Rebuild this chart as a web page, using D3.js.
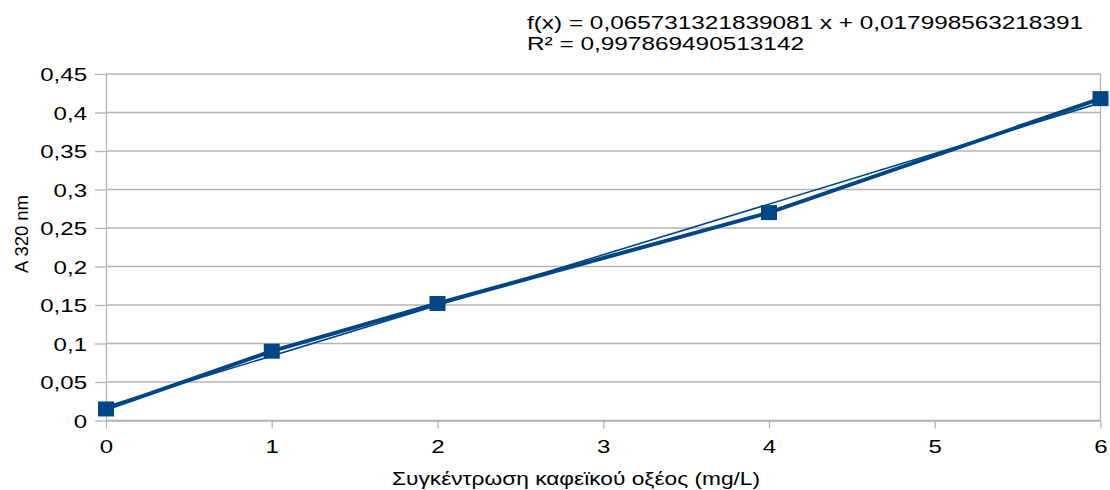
<!DOCTYPE html>
<html>
<head>
<meta charset="utf-8">
<script src="https://cdn.jsdelivr.net/npm/d3@7"></script>
<style>
  body { margin: 0; background: #fff; }
  text { font-family: "Liberation Sans", Arial, sans-serif; fill: #000; }
</style>
</head>
<body>
<svg id="chart" width="1110" height="490"></svg>
<script>
const concentration = [0, 1, 2, 4, 6];
const absorbance = [0.015, 0.09, 0.152, 0.27, 0.418];
const xTicks = [0, 1, 2, 3, 4, 5, 6];
const yTicks = [0, 0.05, 0.1, 0.15, 0.2, 0.25, 0.3, 0.35, 0.4, 0.45];
const equationText = "f(x) = 0,065731321839081 x + 0,017998563218391";
const r2Text = "R² = 0,997869490513142";
const xTitle = "Συγκέντρωση καφεϊκού οξέος (mg/L)";
const yTitle = "A 320 nm";

const svg = d3.select("#chart");
const width = 1110, height = 490;
const margin = { top: 74, right: 9.5, bottom: 69.5, left: 106 };
const blue = "#004586";
const grid = "#b3b3b3";
const sx = 1.3; // text in the picture is stretched sideways
const fontSize = 18.5;

svg.append("rect").attr("width", width).attr("height", height).attr("fill", "#fff");

const x = d3.scaleLinear().domain([0, 6]).range([margin.left, width - margin.right]);
const y = d3.scaleLinear().domain([0, 0.45]).range([height - margin.bottom, margin.top]);
const fmt = d => String(d).replace(".", ",");

// horizontal gridlines
svg.append("g")
  .selectAll("line")
  .data(yTicks)
  .join("line")
  .attr("x1", x(0)).attr("x2", x(6))
  .attr("y1", d => y(d)).attr("y2", d => y(d))
  .attr("stroke", grid).attr("stroke-width", 1.3);

// right border of the plot
svg.append("line")
  .attr("x1", x(6)).attr("x2", x(6))
  .attr("y1", y(0)).attr("y2", y(0.45))
  .attr("stroke", grid).attr("stroke-width", 1.3);

// y axis
const yAxis = svg.append("g")
  .attr("transform", `translate(${margin.left},0)`)
  .call(d3.axisLeft(y).tickValues(yTicks).tickFormat(fmt).tickSize(11).tickSizeOuter(0));
yAxis.select(".domain").attr("stroke", grid).attr("stroke-width", 1.3);
yAxis.selectAll(".tick line").attr("stroke", grid).attr("stroke-width", 1.3);
yAxis.selectAll(".tick text")
  .attr("font-size", fontSize)
  .attr("fill", "#000")
  .attr("x", -19 / sx)
  .attr("dy", "0.36em")
  .attr("transform", `scale(${sx},1)`);

// x axis
const xAxis = svg.append("g")
  .attr("transform", `translate(0,${y(0)})`)
  .call(d3.axisBottom(x).tickValues(xTicks).tickFormat(fmt).tickSize(8).tickSizeOuter(0));
xAxis.select(".domain").attr("stroke", grid).attr("stroke-width", 1.3);
xAxis.selectAll(".tick line").attr("stroke", grid).attr("stroke-width", 1.3);
xAxis.selectAll(".tick text")
  .attr("font-size", fontSize)
  .attr("fill", "#000")
  .attr("y", 32.5)
  .attr("dy", null)
  .attr("transform", `scale(${sx},1)`);

// least squares trend line from the data
const mx = d3.mean(concentration), my = d3.mean(absorbance);
const sxy = d3.sum(concentration, (c, i) => (c - mx) * (absorbance[i] - my));
const sxx = d3.sum(concentration, c => (c - mx) * (c - mx));
const slope = sxy / sxx, intercept = my - slope * mx;
const trendX = d3.extent(concentration);

svg.append("line")
  .attr("x1", x(trendX[0])).attr("y1", y(intercept + slope * trendX[0]))
  .attr("x2", x(trendX[1])).attr("y2", y(intercept + slope * trendX[1]))
  .attr("stroke", blue).attr("stroke-width", 1.6);

// data line
const points = concentration.map((c, i) => [c, absorbance[i]]);
svg.append("path")
  .datum(points)
  .attr("fill", "none")
  .attr("stroke", blue)
  .attr("stroke-width", 4)
  .attr("stroke-linejoin", "round")
  .attr("d", d3.line().x(d => x(d[0])).y(d => y(d[1])));

// square markers
const mw = 16, mh = 15;
svg.append("g")
  .selectAll("rect")
  .data(points)
  .join("rect")
  .attr("x", d => x(d[0]) - mw / 2)
  .attr("y", d => y(d[1]) - mh / 2)
  .attr("width", mw).attr("height", mh)
  .attr("fill", blue);

// regression text
svg.append("text")
  .attr("x", 527).attr("y", 29)
  .attr("font-size", fontSize)
  .attr("textLength", 556).attr("lengthAdjust", "spacingAndGlyphs")
  .text(equationText);
svg.append("text")
  .attr("x", 527).attr("y", 50)
  .attr("font-size", fontSize)
  .attr("textLength", 277).attr("lengthAdjust", "spacingAndGlyphs")
  .text(r2Text);

// axis titles
svg.append("text")
  .attr("x", 392).attr("y", 485)
  .attr("font-size", fontSize)
  .attr("textLength", 368).attr("lengthAdjust", "spacingAndGlyphs")
  .text(xTitle);
svg.append("text")
  .attr("transform", "translate(28,273) rotate(-90)")
  .attr("font-size", fontSize)
  .attr("textLength", 78).attr("lengthAdjust", "spacingAndGlyphs")
  .text(yTitle);
</script>
</body>
</html>
